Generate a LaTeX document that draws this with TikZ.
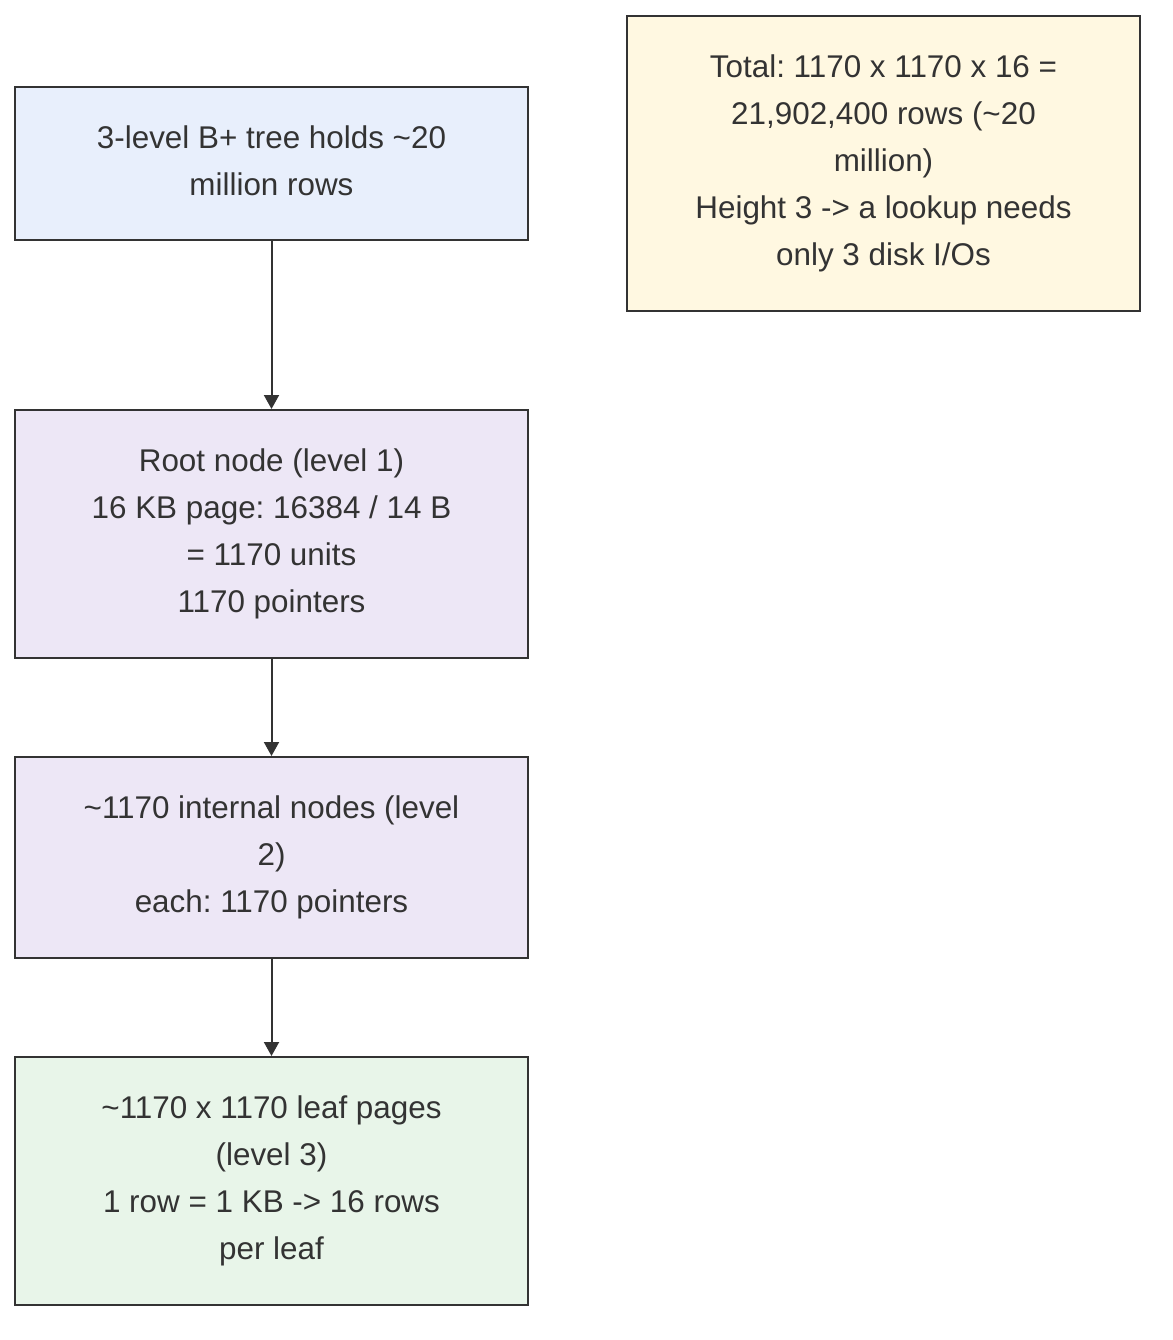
\documentclass[tikz,border=0pt]{standalone}
\usepackage{fontspec}
\setmainfont{Liberation Sans}
\usetikzlibrary{arrows.meta}
\definecolor{edgec}{HTML}{333333}
\definecolor{bluef}{HTML}{E8EFFC}
\definecolor{purpf}{HTML}{EDE7F6}
\definecolor{greenf}{HTML}{E8F5E9}
\definecolor{yellf}{HTML}{FFF8E1}
\definecolor{txtc}{HTML}{333333}
\tikzset{
  x=1pt,y=-1pt,
  box/.style={draw=edgec, line width=2pt, minimum width=513pt, inner sep=0pt,
    align=center, text=txtc, font=\fontsize{31.4}{47}\selectfont\frenchspacing},
  conn/.style={draw=edgec, line width=2pt, -{Triangle[width=15pt,length=14pt]}},
}
\begin{document}
\begin{tikzpicture}
\useasboundingbox (0,0) rectangle (1172,1340);
\node[box, fill=bluef, minimum height=153pt] (a) at (271.5,163.5)
  {3-level B+ tree holds \textasciitilde20\\million rows\rule[-6pt]{0pt}{1pt}};
\node[box, fill=purpf, minimum height=248pt] (b) at (271.5,534)
  {Root node (level 1)\\16 KB page: 16384 / 14 B\\= 1170 units\\1170 pointers};
\node[box, fill=purpf, minimum height=201pt] (c) at (271.5,857.5)
  {\textasciitilde1170 internal nodes (level\\2)\\each: 1170 pointers};
\node[box, fill=greenf, minimum height=248pt] (d) at (271.5,1181)
  {\textasciitilde1170 x 1170 leaf pages\\(level 3)\\1 row = 1 KB -> 16 rows\\per leaf};
\node[box, fill=yellf, minimum height=295pt] (t) at (883.5,163.5)
  {Total: 1170 x 1170 x 16 =\\21,902,400 rows (\textasciitilde20\\million)\\Height 3 -> a lookup needs\\only 3 disk I/Os};
\draw[conn] (a) -- (b);
\draw[conn] (b) -- (c);
\draw[conn] (c) -- (d);
\end{tikzpicture}
\end{document}
